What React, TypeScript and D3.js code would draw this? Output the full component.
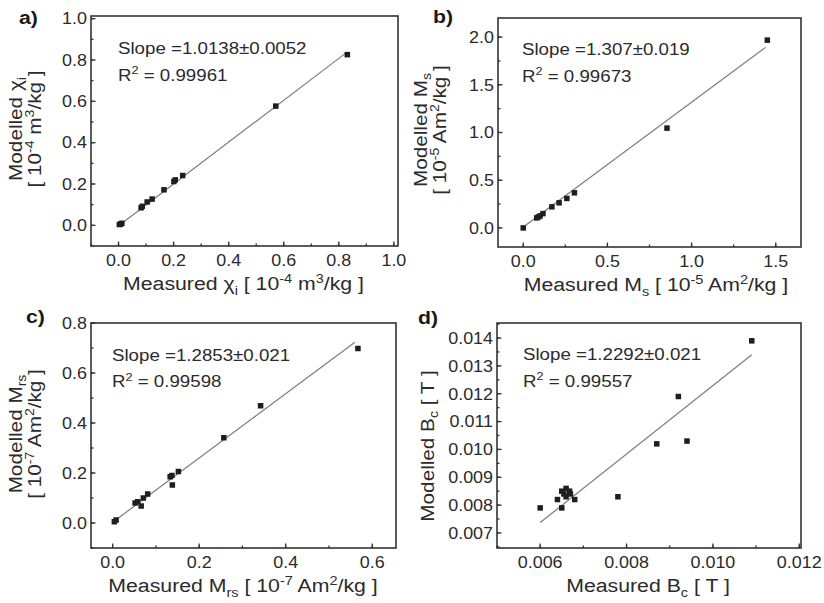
import React from 'react';
import * as d3 from 'd3';

// ---------- data ----------
const aMeasured = [0.003, 0.008, 0.012, 0.082, 0.086, 0.104, 0.122, 0.165, 0.201, 0.206, 0.233, 0.571, 0.831];
const aModelled = [0.004, 0.006, 0.010, 0.085, 0.092, 0.113, 0.127, 0.172, 0.212, 0.220, 0.241, 0.577, 0.826];
const aFit = { slope: 1.0138, intercept: -0.003, from: 0.003, to: 0.831 };
const aXTicks = [0, 0.2, 0.4, 0.6, 0.8, 1.0];
const aYTicks = [0, 0.2, 0.4, 0.6, 0.8, 1.0];

const bMeasured = [0.0, 0.08, 0.09, 0.1, 0.117, 0.17, 0.213, 0.259, 0.304, 0.854, 1.45];
const bModelled = [0.0, 0.105, 0.115, 0.126, 0.15, 0.221, 0.263, 0.309, 0.368, 1.046, 1.968];
const bFit = { slope: 1.307, intercept: 0.01, from: 0.012, to: 1.44 };
const bXTicks = [0, 0.5, 1.0, 1.5];
const bYTicks = [0, 0.5, 1.0, 1.5, 2.0];

const cMeasured = [0.004, 0.008, 0.052, 0.058, 0.066, 0.071, 0.081, 0.133, 0.137, 0.138, 0.152, 0.257, 0.342, 0.567];
const cModelled = [0.005, 0.012, 0.080, 0.085, 0.068, 0.100, 0.116, 0.185, 0.190, 0.152, 0.206, 0.341, 0.469, 0.698];
const cFit = { slope: 1.2853, intercept: 0.003, from: 0.004, to: 0.56 };
const cXTicks = [0, 0.2, 0.4, 0.6];
const cYTicks = [0, 0.2, 0.4, 0.6, 0.8];

const dMeasured = [0.0060, 0.0064, 0.0065, 0.0065, 0.00655, 0.0066, 0.0066, 0.00668, 0.0067, 0.0068, 0.0078, 0.0087, 0.0092, 0.0094, 0.0109];
const dModelled = [0.0079, 0.0082, 0.0079, 0.0085, 0.0084, 0.0086, 0.0083, 0.0085, 0.0084, 0.0082, 0.0083, 0.0102, 0.0119, 0.0103, 0.0139];
const dFit = { slope: 1.2292, intercept: 0, from: 0.006, to: 0.0109 };
const dXTicks = [0.006, 0.008, 0.010, 0.012];
const dYTicks = [0.007, 0.008, 0.009, 0.010, 0.011, 0.012, 0.013, 0.014];

const slopeTexts = ['Slope =1.0138\u00B10.0052', 'Slope =1.307\u00B10.019', 'Slope =1.2853\u00B10.021', 'Slope =1.2292\u00B10.021'];
const r2Texts = ['0.99961', '0.99673', '0.99598', '0.99557'];
const panelLetters = ['a)', 'b)', 'c)', 'd)'];

type Seg = { t: string; s?: 'sub' | 'sup' };

const INK = '#2b2b2b';
const FONT = 'Liberation Sans, Arial, sans-serif';
const SX = 1.12;

function Rich({ segs, size, subK = 0.28 }: { segs: Seg[]; size: number; subK?: number }) {
  const out: React.ReactNode[] = [];
  let cur = 0;
  segs.forEach((sg, i) => {
    let target = 0;
    if (sg.s === 'sub') target = size * subK;
    if (sg.s === 'sup') target = -size * 0.38;
    const dy = target - cur;
    cur = target;
    out.push(
      <tspan key={i} dy={dy} fontSize={sg.s ? size * 0.68 : size}>
        {sg.t}
      </tspan>
    );
  });
  return <>{out}</>;
}

type PanelCfg = {
  frame: { x0: number; x1: number; y0: number; y1: number };
  xDomain: number[];
  yDomain: number[];
  xTicks: number[];
  yTicks: number[];
  fmt: string;
  xs: number[];
  ys: number[];
  fit: { slope: number; intercept: number; from: number; to: number };
  xTitle: Seg[];
  yTitle: Seg[][];
  xTitleX: number;
  yTitleY: number;
  yTitleX: number[];
  annX: number;
  annY: number;
  letter: string;
  letterPos: number[];
  slopeText: string;
  r2: string;
};

function Panel({ p }: { p: PanelCfg }) {
  const { frame } = p;
  const x = d3.scaleLinear().domain(p.xDomain).range([frame.x0, frame.x1]);
  const y = d3.scaleLinear().domain(p.yDomain).range([frame.y1, frame.y0]);
  const f = d3.format(p.fmt);
  const xStep = p.xTicks[1] - p.xTicks[0];
  const yStep = p.yTicks[1] - p.yTicks[0];
  const xMinor: number[] = [];
  for (let v = p.xTicks[0] - xStep * 3; v <= p.xDomain[1] + 1e-12; v += xStep / 2) {
    if (v >= p.xDomain[0] - 1e-12) xMinor.push(v);
  }
  const yMinor: number[] = [];
  for (let v = p.yTicks[0] - yStep * 3; v <= p.yDomain[1] + 1e-12; v += yStep / 2) {
    if (v >= p.yDomain[0] - 1e-12) yMinor.push(v);
  }
  const line = d3
    .line<number>()
    .x((v) => x(v))
    .y((v) => y(p.fit.slope * v + p.fit.intercept));
  const ms = 5.5;
  const tickSize = 16;
  const titleSize = 19;
  const yTitleSize = 18.5;
  const annSize = 16.7;
  return (
    <g fontFamily={FONT} fill={INK}>
      {/* fit line */}
      <path d={line([p.fit.from, p.fit.to]) || ''} stroke="#7d7d7d" strokeWidth={1.2} fill="none" />
      {/* points */}
      {p.xs.map((v, i) => (
        <rect key={i} x={x(v) - ms / 2} y={y(p.ys[i]) - ms / 2} width={ms} height={ms} fill="#1e1e1e" />
      ))}
      {/* frame */}
      <rect x={frame.x0} y={frame.y0} width={frame.x1 - frame.x0} height={frame.y1 - frame.y0} fill="none" stroke="#333" strokeWidth={1.6} />
      {/* minor ticks */}
      {xMinor.map((v, i) => (
        <line key={'xm' + i} x1={x(v)} x2={x(v)} y1={frame.y1} y2={frame.y1 - 2.5} stroke="#333" strokeWidth={1.3} />
      ))}
      {yMinor.map((v, i) => (
        <line key={'ym' + i} x1={frame.x0} x2={frame.x0 + 2.5} y1={y(v)} y2={y(v)} stroke="#333" strokeWidth={1.3} />
      ))}
      {/* major ticks + labels */}
      {p.xTicks.map((v, i) => (
        <g key={'xt' + i}>
          <line x1={x(v)} x2={x(v)} y1={frame.y1} y2={frame.y1 - 4.5} stroke="#333" strokeWidth={1.3} />
          <text transform={`translate(${x(v)},${frame.y1 + 20}) scale(${SX},1)`} textAnchor="middle" fontSize={tickSize}>
            {f(v)}
          </text>
        </g>
      ))}
      {p.yTicks.map((v, i) => (
        <g key={'yt' + i}>
          <line x1={frame.x0} x2={frame.x0 + 4.5} y1={y(v)} y2={y(v)} stroke="#333" strokeWidth={1.3} />
          <text transform={`translate(${frame.x0 - 4},${y(v) + 5.8}) scale(${SX},1)`} textAnchor="end" fontSize={tickSize}>
            {f(v)}
          </text>
        </g>
      ))}
      {/* x title */}
      <text transform={`translate(${p.xTitleX},${frame.y1 + 44}) scale(${SX},1)`} textAnchor="middle" fontSize={titleSize}>
        <Rich segs={p.xTitle} size={titleSize} />
      </text>
      {/* y title */}
      {p.yTitle.map((segs, i) => (
        <text key={'yl' + i} transform={`translate(${p.yTitleX[i]},${p.yTitleY}) rotate(-90) scale(${SX},1)`} textAnchor="middle" fontSize={yTitleSize}>
          <Rich segs={segs} size={yTitleSize} subK={0.2} />
        </text>
      ))}
      {/* annotation */}
      <text transform={`translate(${p.annX},${p.annY}) scale(${SX},1)`} fontSize={annSize}>
        {p.slopeText}
      </text>
      <text transform={`translate(${p.annX},${p.annY + 26.5}) scale(${SX},1)`} fontSize={annSize}>
        <Rich segs={[{ t: 'R' }, { t: '2', s: 'sup' }, { t: ' = ' + p.r2 }]} size={annSize} />
      </text>
      {/* panel letter */}
      <text transform={`translate(${p.letterPos[0]},${p.letterPos[1]}) scale(${SX},1)`} fontSize={19} fontWeight="bold" fill="#1a1a1a">
        {p.letter}
      </text>
    </g>
  );
}

export default function App() {
  const panels: PanelCfg[] = [
    {
      frame: { x0: 91, x1: 398, y0: 16, y1: 246 },
      xDomain: [-0.1, 1.015],
      yDomain: [-0.1, 1.013],
      xTicks: aXTicks,
      yTicks: aYTicks,
      fmt: '.1f',
      xs: aMeasured,
      ys: aModelled,
      fit: aFit,
      xTitle: [{ t: 'Measured \u03C7' }, { t: 'i', s: 'sub' }, { t: ' [ 10' }, { t: '-4', s: 'sup' }, { t: ' m' }, { t: '3', s: 'sup' }, { t: '/kg ]' }],
      yTitle: [
        [{ t: 'Modelled \u03C7' }, { t: 'i', s: 'sub' }],
        [{ t: '[ 10' }, { t: '-4', s: 'sup' }, { t: ' m' }, { t: '3', s: 'sup' }, { t: '/kg ]' }],
      ],
      xTitleX: 243.5,
      yTitleY: 129,
      yTitleX: [22, 41],
      annX: 118,
      annY: 54,
      letter: panelLetters[0],
      letterPos: [19, 24],
      slopeText: slopeTexts[0],
      r2: r2Texts[0],
    },
    {
      frame: { x0: 498, x1: 801, y0: 18, y1: 247 },
      xDomain: [-0.15, 1.65],
      yDomain: [-0.2, 2.2],
      xTicks: bXTicks,
      yTicks: bYTicks,
      fmt: '.1f',
      xs: bMeasured,
      ys: bModelled,
      fit: bFit,
      xTitle: [{ t: 'Measured M' }, { t: 's', s: 'sub' }, { t: ' [ 10' }, { t: '-5', s: 'sup' }, { t: ' Am' }, { t: '2', s: 'sup' }, { t: '/kg ]' }],
      yTitle: [
        [{ t: 'Modelled M' }, { t: 's', s: 'sub' }],
        [{ t: '[ 10' }, { t: '-5', s: 'sup' }, { t: ' Am' }, { t: '2', s: 'sup' }, { t: '/kg ]' }],
      ],
      xTitleX: 656,
      yTitleY: 130,
      yTitleX: [427, 446],
      annX: 522,
      annY: 55,
      letter: panelLetters[1],
      letterPos: [433, 23],
      slopeText: slopeTexts[1],
      r2: r2Texts[1],
    },
    {
      frame: { x0: 91, x1: 396, y0: 323, y1: 548 },
      xDomain: [-0.05, 0.655],
      yDomain: [-0.1, 0.8],
      xTicks: cXTicks,
      yTicks: cYTicks,
      fmt: '.1f',
      xs: cMeasured,
      ys: cModelled,
      fit: cFit,
      xTitle: [{ t: 'Measured M' }, { t: 'rs', s: 'sub' }, { t: ' [ 10' }, { t: '-7', s: 'sup' }, { t: ' Am' }, { t: '2', s: 'sup' }, { t: '/kg ]' }],
      yTitle: [
        [{ t: 'Modelled M' }, { t: 'rs', s: 'sub' }],
        [{ t: '[ 10' }, { t: '-7', s: 'sup' }, { t: ' Am' }, { t: '2', s: 'sup' }, { t: '/kg ]' }],
      ],
      xTitleX: 243,
      yTitleY: 434,
      yTitleX: [22, 41],
      annX: 112,
      annY: 360.5,
      letter: panelLetters[2],
      letterPos: [26, 323],
      slopeText: slopeTexts[2],
      r2: r2Texts[2],
    },
    {
      frame: { x0: 497, x1: 801, y0: 323, y1: 548 },
      xDomain: [0.005, 0.01204],
      yDomain: [0.00646, 0.01454],
      xTicks: dXTicks,
      yTicks: dYTicks,
      fmt: '.3f',
      xs: dMeasured,
      ys: dModelled,
      fit: dFit,
      xTitle: [{ t: 'Measured B' }, { t: 'c', s: 'sub' }, { t: ' [ T ]' }],
      yTitle: [[{ t: 'Modelled B' }, { t: 'c', s: 'sub' }, { t: ' [ T ]' }]],
      xTitleX: 648,
      yTitleY: 446,
      yTitleX: [434],
      annX: 523,
      annY: 360,
      letter: panelLetters[3],
      letterPos: [418, 324],
      slopeText: slopeTexts[3],
      r2: r2Texts[3],
    },
  ];
  return (
    <svg width={824} height={603} style={{ position: 'absolute', left: 0, top: 0, background: '#fff' }}>
      <rect width={824} height={603} fill="#fff" />
      {panels.map((p, i) => (
        <Panel key={i} p={p} />
      ))}
    </svg>
  );
}
